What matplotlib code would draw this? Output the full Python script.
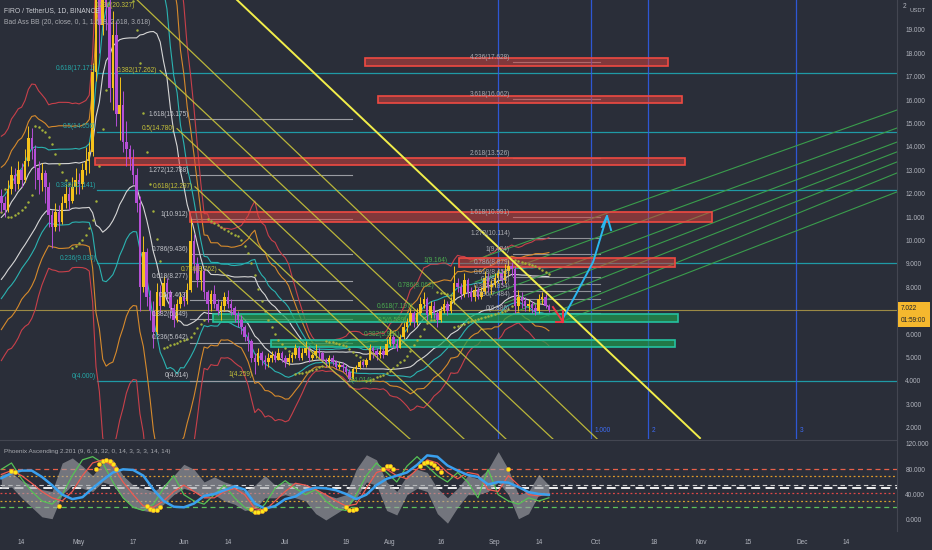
import numpy as np
import pandas as pd
import matplotlib
matplotlib.use('Agg')
import matplotlib.pyplot as plt
from matplotlib.patches import Rectangle

plt.rcParams['font.family'] = ['Liberation Sans', 'DejaVu Sans']

# ---------------- data ----------------
# day index: 0 = 1 May 2021
close_pre = [7.6, 7.9, 7.7, 8.1, 8.4, 8.2, 8.6, 8.9, 8.7, 9.2,
             9.6, 9.4, 9.9, 10.4, 10.1, 10.8, 11.3, 11.0, 11.6, 11.9]   # 19 Mar - 7 Apr
first_day = -23
# close, high, low  (8 Apr .. 17 Sep)
candles = [
    (11.6, 12.2, 11.2), (11.3, 11.9, 11.0), (12.2, 12.6, 11.2), (12.8, 13.2, 12.0),
    (12.4, 13.1, 12.1), (13.0, 13.4, 12.2), (12.6, 13.3, 12.3), (13.4, 13.9, 12.5),
    (14.4, 14.9, 13.2), (13.9, 14.8, 13.5), (13.1, 14.1, 12.2), (12.6, 13.4, 12.0),
    (12.9, 13.3, 12.1), (12.3, 13.0, 11.6), (11.1, 12.5, 10.6), (10.6, 11.3, 9.7),
    (11.2, 11.6, 10.4), (10.8, 11.5, 10.4), (11.6, 11.9, 10.7), (12.0, 12.4, 11.4),
    (11.7, 12.3, 11.3), (12.3, 12.7, 11.6), (12.6, 13.1, 12.0),
    # May
    (12.4, 12.9, 12.0), (13.0, 13.3, 12.2), (13.4, 14.0, 12.8), (13.8, 14.2, 12.9),
    (17.2, 17.6, 13.6), (21.0, 22.5, 16.8), (19.2, 23.0, 18.0), (22.5, 24.0, 18.8),
    (20.0, 25.29, 19.0), (16.5, 21.0, 15.9), (18.8, 19.8, 15.6), (15.4, 19.4, 14.9),
    (15.8, 17.0, 14.3), (14.2, 16.4, 13.8), (13.9, 15.1, 13.2), (13.5, 14.1, 13.0),
    (12.8, 13.9, 12.4), (11.6, 13.1, 11.2), (8.0, 11.9, 7.0), (9.5, 10.2, 7.8),
    (7.6, 9.7, 7.2), (7.0, 7.9, 6.6), (6.1, 7.4, 5.4), (7.8, 8.2, 6.0),
    (7.2, 8.1, 6.9), (8.2, 8.5, 7.2), (7.8, 8.4, 7.5), (7.1, 7.9, 6.7),
    (6.6, 7.3, 6.3), (7.3, 7.5, 6.5), (7.6, 7.8, 7.1),
    # Jun
    (7.4, 7.8, 7.2), (7.9, 8.2, 7.3), (10.0, 10.91, 7.8), (9.0, 10.3, 8.6),
    (8.3, 9.3, 8.0), (8.7, 8.9, 7.9), (7.8, 8.8, 7.5), (7.3, 7.9, 6.5),
    (7.7, 7.9, 7.0), (7.3, 8.1, 7.1), (7.0, 7.5, 6.8), (7.2, 7.4, 6.6),
    (7.6, 7.8, 7.0), (7.3, 7.9, 7.1), (7.1, 7.5, 6.8), (6.8, 7.2, 6.5),
    (6.6, 7.0, 6.3), (6.3, 6.8, 6.0), (5.9, 6.4, 5.7), (5.7, 6.1, 5.3),
    (5.0, 5.8, 4.8), (4.8, 5.2, 4.3), (5.2, 5.4, 4.7), (4.9, 5.3, 4.7),
    (4.8, 5.1, 4.5), (5.0, 5.2, 4.6), (5.1, 5.3, 4.8), (4.9, 5.3, 4.8),
    (5.2, 5.4, 4.9), (5.0, 5.3, 4.8),
    # Jul
    (4.8, 5.1, 4.6), (5.0, 5.2, 4.7), (5.1, 5.2, 4.8), (5.4, 5.6, 5.0),
    (5.0, 5.5, 4.9), (5.2, 5.4, 4.9), (5.4, 5.7, 5.1), (5.0, 5.5, 4.8),
    (5.1, 5.2, 4.9), (5.3, 5.6, 5.0), (5.2, 5.4, 5.0), (4.9, 5.3, 4.8),
    (4.8, 5.0, 4.6), (5.0, 5.1, 4.6), (4.8, 5.1, 4.7), (4.6, 4.9, 4.5),
    (4.7, 4.8, 4.5), (4.6, 4.8, 4.4), (4.4, 4.7, 4.3), (4.1, 4.5, 4.01),
    (4.5, 4.6, 4.1), (4.6, 4.7, 4.4), (4.8, 4.9, 4.5), (4.7, 4.9, 4.6),
    (4.9, 5.0, 4.6), (5.4, 5.6, 4.9), (5.3, 5.5, 5.0), (5.1, 5.4, 4.9),
    (5.3, 5.5, 5.0), (5.1, 5.4, 5.0), (5.6, 5.8, 5.1),
    # Aug
    (5.9, 6.2, 5.5), (5.6, 6.0, 5.4), (5.4, 5.8, 5.3), (5.9, 6.0, 5.4),
    (6.3, 6.5, 5.8), (6.5, 6.7, 6.1), (6.9, 7.1, 6.4), (6.5, 7.0, 6.3),
    (6.9, 7.1, 6.4), (7.3, 7.6, 6.8), (7.5, 7.8, 7.1), (6.8, 7.6, 6.6),
    (7.2, 7.4, 6.7), (6.9, 7.4, 6.7), (6.6, 7.0, 6.3), (7.0, 7.2, 6.5),
    (7.3, 7.5, 6.9), (7.0, 7.4, 6.8), (7.4, 7.6, 6.9), (8.2, 8.9, 7.3),
    (8.0, 8.4, 7.8), (7.7, 8.2, 7.5), (8.3, 8.6, 7.6), (7.8, 8.4, 7.6),
    (7.6, 8.0, 7.4), (7.9, 8.1, 7.4), (7.6, 8.0, 7.5), (7.8, 8.0, 7.5),
    (8.4, 8.7, 7.7), (8.0, 8.6, 7.8), (8.1, 8.3, 7.7),
    # Sep
    (8.4, 8.6, 8.0), (8.6, 8.8, 8.2), (8.3, 8.8, 8.1), (8.7, 9.0, 8.2),
    (8.9, 9.164, 8.5), (8.8, 9.1, 8.5), (7.2, 8.9, 6.9), (7.6, 7.9, 7.0),
    (7.4, 7.8, 7.1), (7.2, 7.6, 7.0), (7.3, 7.5, 7.0), (7.1, 7.4, 6.9),
    (7.0, 7.3, 6.8), (7.5, 7.7, 6.9), (7.6, 7.8, 7.3), (7.2, 7.7, 7.1),
    (7.022, 7.3, 6.95),
]
last_price = 7.022

# oscillator (Phoenix Ascending), sampled every 3 days from day -23
osc_start, osc_step = -23, 3
osc_blue = [66, 74, 78, 78, 68, 55, 40, 33, 36, 50, 63, 75, 80, 79, 70, 48, 30, 21, 20, 26,
            38, 41, 47, 53, 48, 26, 18, 22, 33, 37, 47, 51, 50, 47, 41, 33, 40, 55, 65, 70,
            75, 87, 102, 100, 86, 78, 71, 68, 56, 60, 59, 52, 44, 41, 40]
osc_red = [72, 78, 70, 58, 45, 35, 30, 45, 70, 90, 95, 85, 60, 40, 22, 20, 30, 45, 55, 45,
           35, 35, 45, 50, 40, 18, 15, 30, 45, 58, 55, 48, 40, 30, 22, 25, 50, 75, 80, 70,
           65, 80, 95, 90, 75, 65, 75, 72, 48, 45, 70, 55, 40, 38, 42]
osc_green = [80, 90, 65, 45, 30, 25, 40, 70, 95, 100, 90, 60, 35, 20, 15, 25, 50, 70, 40, 30,
             25, 40, 55, 35, 20, 10, 25, 50, 62, 50, 40, 48, 30, 18, 15, 40, 70, 90, 75, 60,
             85, 100, 85, 70, 60, 75, 60, 35, 80, 40, 30, 25, 35, 30, 35]
gray_hi = [72, 75, 62, 55, 48, 45, 90, 98, 85, 70, 90, 95, 70, 55, 50, 45, 55, 70, 88, 80,
           60, 68, 60, 55, 45, 55, 70, 55, 60, 58, 55, 50, 40, 35, 40, 80, 103, 95, 60, 45,
           70, 80, 75, 50, 35, 50, 70, 65, 80, 108, 80, 40, 45, 72, 55]
gray_lo = [50, 52, 35, 20, 5, 2, 40, 55, 50, 45, 60, 55, 35, 20, 15, 12, 25, 40, 50, 45,
           35, 40, 30, 25, 15, 18, 35, 35, 40, 35, 30, 10, 0, 10, 20, 35, 60, 55, 15, 8,
           40, 50, 45, 10, -5, 20, 40, 40, 45, 60, 40, 2, 10, 40, 38]
dot_t = [-20, -19, -6, 5, 6, 7, 8, 9, 10, 11, 20, 21, 22, 23, 24, 51, 52, 53, 54, 55,
         79, 80, 81, 82, 90, 91, 92, 93, 101, 102, 103, 104, 105, 106, 107, 127]
dot_v = [77, 76, 22, 80, 88, 93, 95, 93, 88, 80, 22, 17, 15, 16, 20, 18, 13, 12, 14, 18,
         20, 16, 15, 18, 80, 85, 85, 80, 85, 90, 92, 90, 87, 82, 76, 80]
osc_levels = [80, 70, 56, 50, 43, 30, 20]

# drawings
cyan_levels = [4.000, 9.030, 12.141, 14.656, 17.171]
cyan_names = ['0', '0.236', '0.382', '0.5', '0.618']
gray_levels = [4.014, 5.642, 6.649, 7.463, 8.277, 9.436, 10.912, 12.788, 15.175]
gray_names = ['0', '0.236', '0.382', '0.5', '0.618', '0.786', '1', '1.272', '1.618']
yellow_levels = [20.327, 17.262, 14.780, 12.297, 8.762, 4.259]
yellow_names = ['0.236', '0.382', '0.5', '0.618', '0.786', '1']
yellow_label_t = [16.5, 23.1, 28.4, 33.7, 41.1, 51.2]
yellow_label_p = [20.05, 17.262, 14.780, 12.297, 8.762, 4.259]
green_levels = [4.014, 5.981, 6.589, 7.197, 8.062, 9.164]
green_names = ['0', '0.382', '0.5', '0.618', '0.786', '1']
green_label_t = [87.0, 95.0, 97.0, 99.0, 105.3, 108.9]
ext_levels = [6.886, 7.484, 7.854, 8.153, 8.453, 8.879, 9.424, 10.114, 10.991, 13.526, 16.062, 17.628]
ext_names = ['0', '0.236', '0.382', '0.5', '0.618', '0.786', '1', '1.272', '1.618', '2.618', '3.618', '4.236']
red_boxes = [(84.6, 174.3, 17.46, 17.80), (88.5, 178.4, 15.88, 16.18), (4.7, 179.3, 13.23, 13.53),
             (32.8, 187.3, 10.79, 11.22), (112.4, 176.3, 8.87, 9.26)]
green_boxes = [(39.6, 177.2, 6.52, 6.86), (56.8, 176.3, 5.45, 5.75)]
yellow_diag = [((17.2, 20.28), (153.3, 1.52)), ((23.96, 17.262), (140.2, 1.52)),
               ((29.0, 14.78), (126.3, 1.52)), ((34.3, 12.297), (113.9, 1.52)),
               ((41.4, 8.762), (97.9, 1.52))]
bright_diag = ((46.75, 20.28), (183.7, 1.56))
green_fan = [((115.7, 9.09), (242, 15.58)), ((117.2, 8.23), (242, 14.81)), ((121.6, 7.68), (242, 14.21)),
             ((126.0, 7.33), (242, 13.79)), ((130.5, 7.03), (242, 13.36)), ((136.4, 6.68), (242, 12.89)),
             ((142.3, 6.51), (242, 12.08))]
cycle_t = [124.0, 151.5, 168.3, 212.1]
cycle_lab = ['', '1.000', '2', '3']
cyan_arrow_t = [143.2, 147.0, 152.1, 156.2]
cyan_arrow_p = [6.69, 7.70, 9.09, 11.05]
red_arrow_t = [140.2, 143.2]
red_arrow_p = [7.16, 6.52]

tick_t = [-17, 0, 16, 31, 44, 61, 79, 92, 107, 123, 136, 153, 170, 184, 198, 214, 227]
tick_lab = ['14', 'May', '17', 'Jun', '14', 'Jul', '19', 'Aug', '16', 'Sep', '14',
            'Oct', '18', 'Nov', '15', 'Dec', '14']

# ---------------- figure ----------------
W, H = 932, 550
BG = '#2a2e39'
TXT = '#b2b5be'
YEL = '#f5c21b'
PUR = '#b64fd6'
FS = 4.7

fig = plt.figure(figsize=(W / 100, H / 100), dpi=100, facecolor=BG)


def px(x0, y0, x1, y1):
    return [x0 / W, 1 - y1 / H, (x1 - x0) / W, (y1 - y0) / H]


ax = fig.add_axes(px(0, 0, 897, 439))
ax2 = fig.add_axes(px(0, 440, 897, 531))
for a in (ax, ax2):
    a.set_facecolor(BG)
    for s in a.spines.values():
        s.set_visible(False)
    a.spines['right'].set_visible(True)
    a.spines['right'].set_color('#434651')
    a.set_xlim(-23.4, 242.0)
ax2.spines['top'].set_visible(True)
ax2.spines['top'].set_color('#434651')
ax.set_ylim(1.52, 20.28)
ax2.set_ylim(-17.4, 126.3)

# candles
arr = np.array(candles)
c, hi, lo = arr[:, 0], arr[:, 1], arr[:, 2]
t = np.arange(first_day, first_day + len(c))
o = np.concatenate([[close_pre[-1]], c[:-1]])
col = np.where(c >= o, YEL, PUR)
ax.vlines(t, lo, hi, colors=col, lw=0.7, zorder=6)
ax.bar(t, np.maximum(np.abs(c - o), 0.05), bottom=np.minimum(o, c), width=0.74,
       color=col, linewidth=0, zorder=7)

# Bollinger bands
allc = pd.Series(np.concatenate([close_pre, c]))
mid = allc.rolling(20).mean().values[len(close_pre):]
sd = allc.rolling(20).std(ddof=0).values[len(close_pre):]
for k, bc in zip([1, 1.618, 2.618, 3.618], ['#d6d6d6', '#2ab3b1', '#d68a2c', '#c8404a']):
    ax.plot(t, mid + k * sd, color=bc, lw=0.8, zorder=3)
    ax.plot(t, mid - k * sd, color=bc, lw=0.8, zorder=3)


# parabolic SAR
def psar(h, l, step=0.02, amax=0.2):
    n = len(h)
    sar = np.zeros(n)
    bull, af, ep = True, step, h[0]
    sar[0] = l[0]
    for i in range(1, n):
        s = sar[i - 1] + af * (ep - sar[i - 1])
        if bull:
            s = min(s, l[i - 1], l[max(i - 2, 0)])
            if l[i] < s:
                bull, s, ep, af = False, ep, l[i], step
            elif h[i] > ep:
                ep, af = h[i], min(af + step, amax)
        else:
            s = max(s, h[i - 1], h[max(i - 2, 0)])
            if h[i] > s:
                bull, s, ep, af = True, ep, h[i], step
            elif l[i] < ep:
                ep, af = l[i], min(af + step, amax)
        sar[i] = s
    return sar


ax.scatter(t, psar(hi, lo), s=3.2, color='#a3b03a', zorder=5, linewidths=0)

# horizontal fib lines
for lv, nm in zip(cyan_levels, cyan_names):
    ax.plot([5.3, 242], [lv, lv], color='#1f9aa6', lw=0.9, zorder=2)
    ax.text(5.0, lv + 0.05, f'{nm}({lv:.3f})', color='#26a8a8', fontsize=FS,
            ha='right', va='bottom', zorder=9)
for lv, nm in zip(gray_levels, gray_names):
    ax.plot([32.8, 80.8], [lv, lv], color='#9a9ca3', lw=0.8, zorder=2)
    ax.text(32.4, lv + 0.05, f'{nm}({lv:.3f})', color='#c4c6cc', fontsize=FS,
            ha='right', va='bottom', zorder=9)
for lv, nm, lt, lp in zip(yellow_levels, yellow_names, yellow_label_t, yellow_label_p):
    ax.text(lt, lp, f'{nm}({lv:.3f})', color='#c6c23a', fontsize=FS,
            ha='right', va='center', zorder=9)
for lv, nm, lt in zip(green_levels, green_names, green_label_t):
    ax.text(lt, lv, f'{nm}({lv:.3f})', color='#4caf50', fontsize=FS,
            ha='right', va='center', zorder=9)
for lv, nm in zip(ext_levels, ext_names):
    ax.plot([128.4, 154.0], [lv, lv], color='#8f9197', lw=0.8, zorder=2)
    ax.text(127.5, lv + 0.05, f'{nm}({lv:.3f})', color='#a8aab0', fontsize=FS,
            ha='right', va='bottom', zorder=9)

# zones
for t0, t1, p0, p1 in red_boxes:
    ax.add_patch(Rectangle((t0, p0), t1 - t0, p1 - p0, facecolor='#d9423e', alpha=0.5,
                           edgecolor='none', zorder=4))
    ax.add_patch(Rectangle((t0, p0), t1 - t0, p1 - p0, facecolor='none',
                           edgecolor='#f04a42', lw=1.2, zorder=4))
for t0, t1, p0, p1 in green_boxes:
    ax.add_patch(Rectangle((t0, p0), t1 - t0, p1 - p0, facecolor='#1f9a4e', alpha=0.7,
                           edgecolor='none', zorder=4))
    ax.add_patch(Rectangle((t0, p0), t1 - t0, p1 - p0, facecolor='none',
                           edgecolor='#25c2a0', lw=1.2, zorder=4))

# diagonals
for (a0, b0), (a1, b1) in yellow_diag:
    ax.plot([a0, a1], [b0, b1], color='#c9c43a', lw=0.9, alpha=0.9, zorder=8)
(a0, b0), (a1, b1) = bright_diag
ax.plot([a0, a1], [b0, b1], color='#f2ee4a', lw=1.4, zorder=8)
for (a0, b0), (a1, b1) in green_fan:
    ax.plot([a0, a1], [b0, b1], color='#3a9d4c', lw=0.8, zorder=3)

# time cycles
for ct, cl in zip(cycle_t, cycle_lab):
    ax.axvline(ct, color='#2f5ff0', lw=0.9, alpha=0.85, zorder=2)
    if cl:
        ax.text(ct + 1.0, 1.75, cl, color='#3e6cf5', fontsize=FS, va='bottom', zorder=9)

# arrows
ax.plot(cyan_arrow_t, cyan_arrow_p, color='#2bb7ef', lw=1.4, zorder=9)
ax.plot([154.7, cyan_arrow_t[-1], 157.4], [10.58, cyan_arrow_p[-1], 10.45],
        color='#2bb7ef', lw=1.4, zorder=9)
ax.plot(red_arrow_t, red_arrow_p, color='#f23645', lw=1.4, zorder=9)
ax.plot([141.1, red_arrow_t[-1], red_arrow_t[-1]], [red_arrow_p[-1], red_arrow_p[-1], 6.99],
        color='#f23645', lw=1.4, zorder=9)

# last price line
ax.axhline(last_price, color='#9c8a45', lw=0.8, zorder=2)

# axes ticks
ax.tick_params(axis='x', bottom=False, labelbottom=False)
yt = [v for v in range(2, 20) if v != 7]
ax.set_yticks(yt)
ax.set_yticklabels([f'{v:.3f}' for v in yt])
ax.yaxis.tick_right()
ax.tick_params(axis='y', length=0, pad=6, labelsize=FS, labelcolor=TXT)

# oscillator pane
ot = np.arange(len(osc_blue)) * osc_step + osc_start
ax2.fill_between(ot, gray_lo, gray_hi, color='#a4a6ab', alpha=0.6, lw=0, zorder=2)
ax2.plot(ot, osc_green, color='#55c255', lw=0.9, zorder=3)
ax2.plot(ot, osc_red, color='#f05a50', lw=0.9, zorder=3)
ax2.plot(ot, osc_blue, color='#3aa0ee', lw=1.8, zorder=4)
ax2.scatter(dot_t, dot_v, s=9, color='#ffe81a', edgecolors='#f0a020', linewidths=0.4, zorder=5)
lv_style = [('#e8604a', (4, 3), 0.9), ('#e09a2a', (1.5, 2), 0.9), ('#d0d0d0', (4, 3), 0.8),
            ('#ffffff', (5, 3), 1.3), ('#e04848', (1.5, 2), 0.9), ('#d8a030', (1.5, 2), 0.9),
            ('#5cc05c', (4, 3), 0.9)]
for lv, (lc, ds, lw) in zip(osc_levels, lv_style):
    ax2.axhline(lv, color=lc, lw=lw, dashes=ds, zorder=1)
ax2.set_xticks(tick_t)
ax2.set_xticklabels(tick_lab)
ax2.tick_params(axis='x', length=0, pad=6, labelsize=FS, labelcolor=TXT)
ax2.set_yticks([0, 40, 80, 120])
ax2.set_yticklabels(['0.000', '40.000', '80.000', '120.000'])
ax2.yaxis.tick_right()
ax2.tick_params(axis='y', length=0, pad=6, labelsize=FS, labelcolor=TXT)

# texts
fig.text(4 / W, 1 - 11 / H, 'FIRO / TetherUS, 1D, BINANCE', color='#c8cad0', fontsize=4.9, va='center')
fig.text(4 / W, 1 - 23 / H, 'Bad Ass BB (20, close, 0, 1, 1.618, 2.618, 3.618)', color='#a8aab0',
         fontsize=4.9, va='center')
fig.text(4 / W, 1 - 451 / H, 'Phoenix Ascending 2.201 (9, 6, 3, 32, 0, 14, 3, 3, 3, 14, 14)',
         color='#a8aab0', fontsize=4.6, va='center')
fig.text(903 / W, 1 - 7 / H, '2', color=TXT, fontsize=FS, va='center')
fig.text(910 / W, 1 - 10 / H, 'USDT', color=TXT, fontsize=4.2, va='center')
fig.add_artist(Rectangle((898 / W, 1 - 327 / H), 32 / W, 25 / H, transform=fig.transFigure,
                         facecolor='#f5b82e', edgecolor='none', zorder=9))
fig.text(901 / W, 1 - 309 / H, f'{last_price:.3f}', color='#1e222d', fontsize=FS, va='center', zorder=10)
fig.text(901 / W, 1 - 320 / H, '01:59:00', color='#1e222d', fontsize=FS, va='center', zorder=10)

fig.savefig('out.png', dpi=100, facecolor=BG)
